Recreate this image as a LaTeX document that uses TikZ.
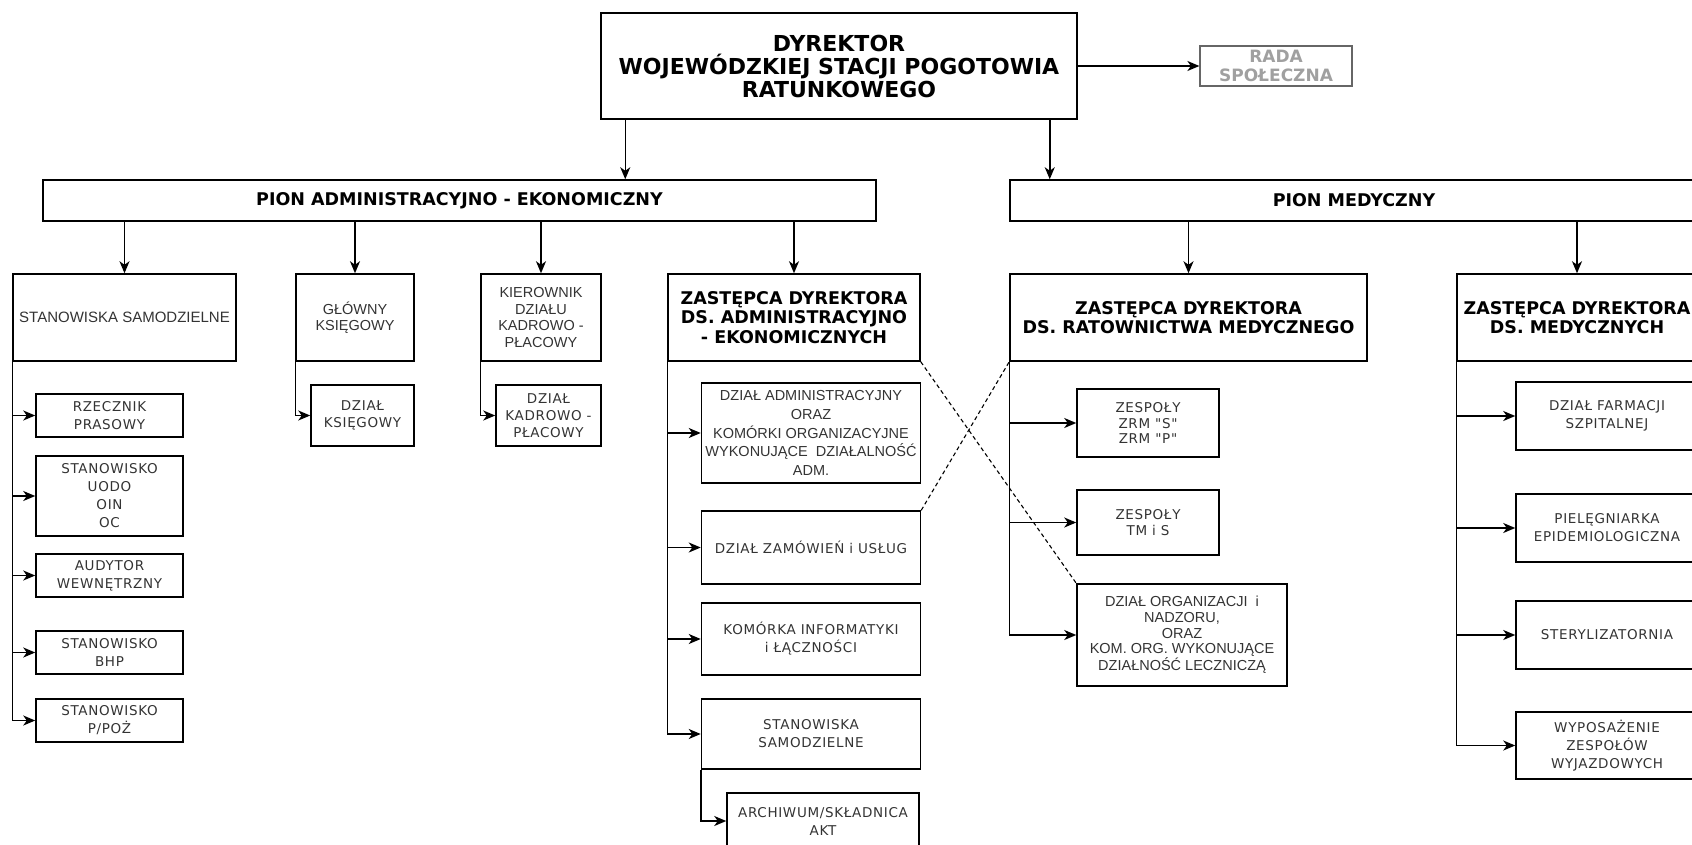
\documentclass[tikz,border=0pt]{standalone}
\usepackage{fontspec}
\setmainfont{DejaVu Sans}
\newfontfamily\arialfont{Liberation Sans}
\newfontfamily\widefont[LetterSpace=5]{DejaVu Sans}
\usepackage{tikz}
\usetikzlibrary{arrows.meta,calc}
\definecolor{txtgray}{HTML}{333333}
\definecolor{radagray}{HTML}{A0A0A0}

\begin{document}
\begin{tikzpicture}[x=1pt,y=-1pt,
    hdr/.style={draw,line width=1.5pt,inner sep=1pt,align=center,font=\bfseries\fontsize{17.5}{19.5}\selectfont},
    cell/.style={draw,line width=1.5pt,inner sep=1pt,align=center,text=txtgray,font=\arialfont\fontsize{14.5}{16.5}\selectfont},
    wcell/.style={draw,line width=1.5pt,inner sep=1pt,align=center,text=txtgray,font=\widefont\fontsize{13.5}{18}\selectfont},
    arr/.style={-{Stealth[length=12pt,width=10pt,inset=3.5pt]},line width=1.5pt},
    cross/.style={line width=1.1pt,dash pattern=on 4pt off 3pt}]
    \useasboundingbox (0,0) rectangle (1692,844);
    % top
    \node[hdr,minimum width=476pt,minimum height=106pt,font=\bfseries\fontsize{22}{23}\selectfont] (dyr) at (839,66) {DYREKTOR\\WOJEWÓDZKIEJ STACJI POGOTOWIA\\RATUNKOWEGO};
    \node[hdr,minimum width=152pt,minimum height=40pt,line width=1.2pt,draw=black!60,text=radagray,font=\bfseries\fontsize{17}{19.5}\selectfont] (rada) at (1276,66) {RADA\\SPOŁECZNA};
    \node[hdr,minimum width=833pt,minimum height=41pt] (pionadm) at (459.5,200.5) {PION ADMINISTRACYJNO - EKONOMICZNY};
    \node[hdr,minimum width=688pt,minimum height=41pt] (pionmed) at (1354,200.5) {PION MEDYCZNY};
    % second row
    \node[cell,minimum width=223pt,minimum height=87pt,font=\arialfont\fontsize{15}{17}\selectfont] (stsam) at (124.5,317.5) {STANOWISKA SAMODZIELNE};
    \node[cell,minimum width=118pt,minimum height=87pt] (glks) at (355,317.5) {GŁÓWNY\\KSIĘGOWY};
    \node[cell,minimum width=120pt,minimum height=87pt] (kier) at (541,317.5) {KIEROWNIK\\DZIAŁU\\KADROWO -\\PŁACOWY};
    \node[hdr,minimum width=252pt,minimum height=87pt] (zadm) at (794,317.5) {ZASTĘPCA DYREKTORA\\DS. ADMINISTRACYJNO\\- EKONOMICZNYCH};
    \node[hdr,minimum width=357pt,minimum height=87pt] (zrat) at (1188.5,317.5) {ZASTĘPCA DYREKTORA\\DS. RATOWNICTWA MEDYCZNEGO};
    \node[hdr,minimum width=240pt,minimum height=87pt] (zmed) at (1577,317.5) {ZASTĘPCA DYREKTORA\\DS. MEDYCZNYCH};
    % stanowiska samodzielne
    \node[wcell,minimum width=147pt,minimum height=43pt] (rzecz) at (109.5,415.5) {RZECZNIK\\PRASOWY};
    \node[wcell,minimum width=147pt,minimum height=80pt] (uodo) at (109.5,496) {STANOWISKO\\UODO\\OIN\\OC};
    \node[wcell,minimum width=147pt,minimum height=43pt] (audyt) at (109.5,575.5) {AUDYTOR\\WEWNĘTRZNY};
    \node[wcell,minimum width=147pt,minimum height=43pt] (bhp) at (109.5,652.5) {STANOWISKO\\BHP};
    \node[wcell,minimum width=147pt,minimum height=43pt] (ppoz) at (109.5,720.5) {STANOWISKO\\P/POŻ};
    \node[wcell,minimum width=103pt,minimum height=61pt,font=\widefont\fontsize{13.5}{17}\selectfont] (dzks) at (362.5,415.5) {DZIAŁ\\KSIĘGOWY};
    \node[wcell,minimum width=105pt,minimum height=61pt,font=\widefont\fontsize{13.5}{17}\selectfont] (dzkad) at (548.5,415.5) {DZIAŁ\\KADROWO -\\PŁACOWY};
    % pion administracyjny
    \node[cell,minimum width=219pt,minimum height=100pt,font=\arialfont\fontsize{14.5}{18.7}\selectfont] (dadm) at (811,433) {DZIAŁ ADMINISTRACYJNY\\ORAZ\\KOMÓRKI ORGANIZACYJNE\\WYKONUJĄCE~ DZIAŁALNOŚĆ\\ADM.};
    \node[wcell,minimum width=219pt,minimum height=73pt] (dzam) at (811,547.5) {DZIAŁ ZAMÓWIEŃ i USŁUG};
    \node[wcell,minimum width=219pt,minimum height=72pt] (kinf) at (811,639) {KOMÓRKA INFORMATYKI\\i ŁĄCZNOŚCI};
    \node[wcell,minimum width=219pt,minimum height=70pt] (stsam2) at (811,734) {STANOWISKA\\SAMODZIELNE};
    \node[wcell,minimum width=192pt,minimum height=56pt] (arch) at (823,821) {ARCHIWUM/SKŁADNICA\\AKT};
    % ratownictwo
    \node[wcell,minimum width=142pt,minimum height=68pt,font=\widefont\fontsize{13.5}{15.5}\selectfont] (zrm) at (1148,423) {ZESPOŁY\\ZRM "S"\\ZRM "P"};
    \node[wcell,minimum width=142pt,minimum height=65pt,font=\widefont\fontsize{13.5}{15.5}\selectfont] (tms) at (1148,522.5) {ZESPOŁY\\TM i S};
    \node[cell,minimum width=210pt,minimum height=102pt,font=\arialfont\fontsize{14.5}{15.7}\selectfont] (dorg) at (1182,635) {DZIAŁ ORGANIZACJI~ i\\NADZORU,\\ORAZ\\KOM. ORG. WYKONUJĄCE\\DZIAŁNOŚĆ LECZNICZĄ};
    % medyczny
    \node[wcell,minimum width=182pt,minimum height=68pt] (farm) at (1607,416) {DZIAŁ FARMACJI\\SZPITALNEJ};
    \node[wcell,minimum width=182pt,minimum height=68pt] (piel) at (1607,528) {PIELĘGNIARKA\\EPIDEMIOLOGICZNA};
    \node[wcell,minimum width=182pt,minimum height=68pt] (steryl) at (1607,635) {STERYLIZATORNIA};
    \node[wcell,minimum width=182pt,minimum height=67pt] (wypos) at (1607,745.5) {WYPOSAŻENIE\\ZESPOŁÓW\\WYJAZDOWYCH};
    % connectors
    \coordinate (d1) at ([xshift=25pt]dyr.south west);
    \coordinate (d2) at ([xshift=-28pt]dyr.south east);
    \draw[arr] (dyr) -- (rada);
    \draw[arr] (d1) -- (d1 |- pionadm.north);
    \draw[arr] (d2) -- (d2 |- pionmed.north);
    \foreach \n in {stsam,glks,kier,zadm}
        \draw[arr] (pionadm.south -| \n.north) -- (\n.north);
    \foreach \n in {zrat,zmed}
        \draw[arr] (pionmed.south -| \n.north) -- (\n.north);
    \foreach \n in {rzecz,uodo,audyt,bhp,ppoz}
        \draw[arr] (stsam.south west) |- (\n.west);
    \draw[arr] (glks.south west) |- (dzks.west);
    \draw[arr] (kier.south west) |- (dzkad.west);
    \foreach \n in {dadm,dzam,kinf,stsam2}
        \draw[arr] (zadm.south west) |- (\n.west);
    \draw[arr] (stsam2.south west) |- (arch.west);
    \foreach \n in {zrm,tms,dorg}
        \draw[arr] (zrat.south west) |- (\n.west);
    \foreach \n in {farm,piel,steryl,wypos}
        \draw[arr] (zmed.south west) |- (\n.west);
    \draw[cross] (zadm.south east) -- (dorg.north west);
    \draw[cross] (dzam.north east) -- (zrat.south west);
\end{tikzpicture}
\end{document}
